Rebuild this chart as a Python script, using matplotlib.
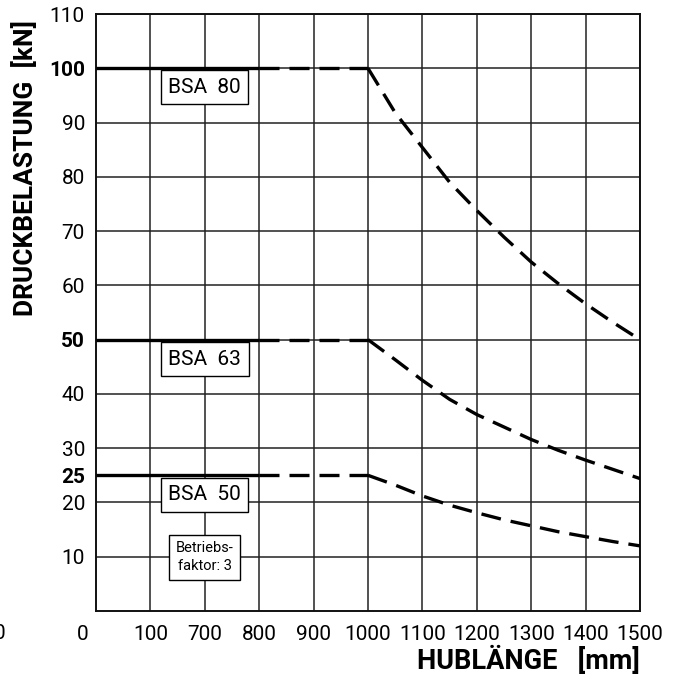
import matplotlib
matplotlib.use("Agg")
import matplotlib.pyplot as plt
import matplotlib.transforms as mtransforms
import numpy as np

# broken stroke axis: tick values and their (evenly spaced) grid positions
stroke_ticks = [0, 100, 700, 800, 900, 1000, 1100, 1200, 1300, 1400, 1500]
stroke_labels = ["0", "100", "700", "800", "900", "1000", "1100", "1200", "1300", "1400", "1500"]
load_ticks = [10, 20, 25, 30, 40, 50, 60, 70, 80, 90, 100, 110]
load_bold = [25, 50, 100]
load_grid = [10, 20, 30, 40, 50, 60, 70, 80, 90, 100, 110]

# cylinders, nominal load and buckling-limited load above 1000 mm stroke
cylinders = ["BSA 80", "BSA 63", "BSA 50"]
nominal_load = [100, 50, 25]
solid_end = 800
curve_stroke = [1000, 1050, 1100, 1150, 1200, 1250, 1300, 1350, 1400, 1450, 1500]
curve_bsa80 = [100, 91.8, 85.4, 79.0, 73.8, 68.9, 64.3, 60.3, 56.6, 53.2, 50.0]
curve_bsa63 = [50, 46.3, 42.5, 39.0, 36.2, 33.9, 31.6, 29.6, 27.8, 26.1, 24.4]
curve_bsa50 = [25, 23.2, 21.2, 19.5, 18.1, 16.8, 15.7, 14.6, 13.7, 12.8, 12.0]
curves = [curve_bsa80, curve_bsa63, curve_bsa50]
label_y = [96.5, 46.4, 21.4]
label_x = 700

grid_idx = np.arange(len(stroke_ticks))


def fwd(x):
    return np.interp(x, stroke_ticks, grid_idx)


def inv(x):
    return np.interp(x, grid_idx, stroke_ticks)


plt.rcParams["font.family"] = ["Roboto", "DejaVu Sans"]

fig = plt.figure(figsize=(6.8, 6.77), dpi=100)
ax = fig.add_axes([96 / 680, 66 / 677, 544 / 680, 597 / 677])
ax.set_xscale("function", functions=(fwd, inv))
ax.set_xlim(0, 1500)
ax.set_ylim(0, 110)

# grid
for v in load_grid:
    ax.axhline(v, color="#222222", lw=1.1, zorder=1)
for v in stroke_ticks[1:]:
    ax.axvline(v, color="#222222", lw=1.1, zorder=1)

for sp in ax.spines.values():
    sp.set_linewidth(1.4)
    sp.set_color("#111111")

# load lines: solid, dashed flat part, dashed buckling curve
for nom, curve in zip(nominal_load, curves):
    ax.plot([0, solid_end], [nom, nom], color="black", lw=2.4,
            solid_capstyle="butt", zorder=3, clip_on=False)
    ax.plot([solid_end, curve_stroke[0]], [nom, curve[0]], color="black",
            lw=2.4, dashes=(6.0, 3.0), zorder=3)
    ax.plot(curve_stroke, curve, color="black", lw=2.4, dashes=(6.0, 3.0),
            zorder=3)

# labels in boxes
for name, ly in zip(cylinders, label_y):
    ax.text(label_x, ly, name.replace(" ", "  "), ha="center", va="center",
            fontsize=15, zorder=4,
            bbox=dict(boxstyle="square,pad=0.35", fc="white", ec="black", lw=1.0))
ax.text(label_x, 9.9, "Betriebs-\nfaktor: 3", ha="center", va="center",
        fontsize=10.5, linespacing=1.4, zorder=4,
        bbox=dict(boxstyle="square,pad=0.45", fc="white", ec="black", lw=1.0))

# ticks
ax.set_xticks(stroke_ticks)
ax.set_xticklabels(stroke_labels, fontsize=15)
ax.set_yticks(load_ticks)
ax.set_yticklabels([str(v) for v in load_ticks], fontsize=15)
ax.tick_params(axis="both", length=0)
ax.tick_params(axis="x", pad=10)
ax.tick_params(axis="y", pad=8)
for t, v in zip(ax.get_yticklabels(), load_ticks):
    if v in load_bold:
        t.set_fontweight("bold")
xt = ax.get_xticklabels()
xt[0].set_transform(xt[0].get_transform() +
                    mtransforms.ScaledTranslation(-13 / 100, 0, fig.dpi_scale_trans))
ax.text(-0.1765, -0.038, "0", transform=ax.transAxes, fontsize=15,
        ha="center", va="center", clip_on=False)

fig.text(25 / 680, 1 - 168 / 677, "DRUCKBELASTUNG  [kN]", rotation=90,
         ha="center", va="center", fontsize=19, fontweight="bold")
ax.text(1.0, -0.083, "HUBLÄNGE   [mm]", transform=ax.transAxes, ha="right",
        va="center", fontsize=19.5, fontweight="bold")

fig.savefig("out.png", dpi=100)
